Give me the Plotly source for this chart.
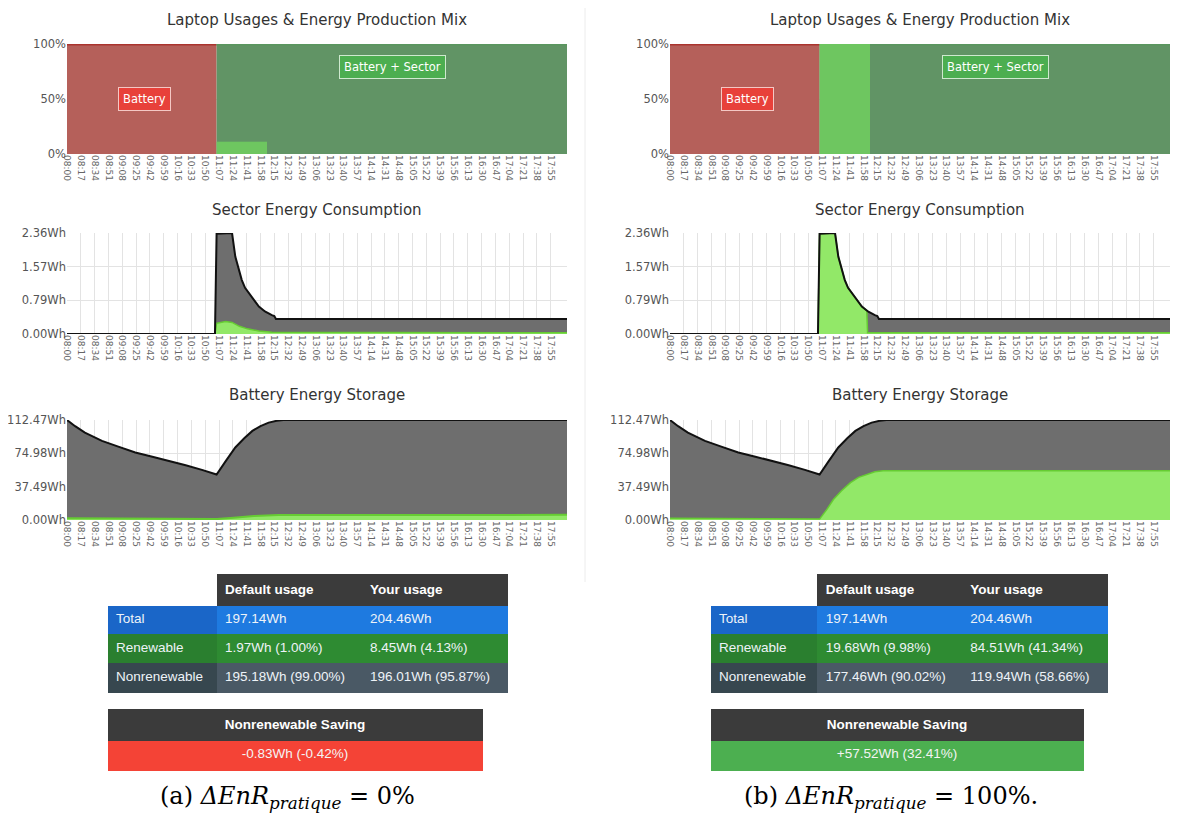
import plotly.graph_objects as go

W, H = 1188, 824
OFF = 8  # page body margin seen in the screenshot

# x axis tick labels (every 17 minutes)
tick_labels = ["08:00", "08:17", "08:34", "08:51", "09:08", "09:25", "09:42", "09:59",
               "10:16", "10:33", "10:50", "11:07", "11:24", "11:41", "11:58", "12:15",
               "12:32", "12:49", "13:06", "13:23", "13:40", "13:57", "14:14", "14:31",
               "14:48", "15:05", "15:22", "15:39", "15:56", "16:13", "16:30", "16:47",
               "17:04", "17:21", "17:38", "17:55"]

# usage mix (% of time), minutes since 08:00
battery_mix_t = [0, 184]
battery_mix = [100, 100]
sector_mix_t = [184, 615]
sector_mix = [100, 100]
renew_mix_t = [184, 246]
renew_mix_a = [11, 11]
renew_mix_b = [100, 100]

# sector energy consumption (Wh)
sector_t = [0, 182, 184, 203, 207, 211, 215, 219, 224, 229, 236, 242, 244, 252, 255, 257, 615]
sector_total = [0, 0, 2.34, 2.36, 1.81, 1.50, 1.26, 1.08, 0.95, 0.80, 0.64, 0.55, 0.52,
                0.44, 0.42, 0.35, 0.35]
sector_renew_a_t = [0, 182, 184, 195, 203, 212, 222, 236, 252, 615]
sector_renew_a = [0, 0, 0.25, 0.29, 0.27, 0.18, 0.12, 0.07, 0.04, 0.03]
sector_renew_b_t = [0, 182, 184, 203, 207, 211, 215, 219, 224, 229, 236, 242, 243, 615]
sector_renew_b = [0, 0, 2.34, 2.36, 1.81, 1.50, 1.26, 1.08, 0.95, 0.80, 0.64, 0.55, 0.03, 0.03]

# battery energy storage (Wh)
battery_t = [0, 10, 22, 43, 64, 84, 105, 125, 146, 166, 184, 195, 207, 218, 228, 238,
             248, 258, 266, 615]
battery_total = [112.47, 105.5, 98.3, 89.0, 82.2, 76.0, 71.2, 66.8, 61.5, 56.4, 51.2,
                 66.0, 81.6, 92.0, 100.2, 105.6, 109.5, 111.6, 112.47, 112.47]
battery_renew_a_t = [0, 90, 184, 205, 230, 260, 615]
battery_renew_a = [2.0, 1.5, 1.0, 2.5, 4.5, 5.5, 5.8]
battery_renew_b_t = [0, 90, 184, 193, 201, 211, 222, 232, 242, 252, 262, 615]
battery_renew_b = [2.0, 1.5, 1.0, 12.0, 23.0, 33.0, 42.0, 48.0, 51.6, 54.3, 55.4, 55.5]

# tables
row_labels = ["Total", "Renewable", "Nonrenewable"]
default_a = ["197.14Wh", "1.97Wh (1.00%)", "195.18Wh (99.00%)"]
yours_a = ["204.46Wh", "8.45Wh (4.13%)", "196.01Wh (95.87%)"]
default_b = ["197.14Wh", "19.68Wh (9.98%)", "177.46Wh (90.02%)"]
yours_b = ["204.46Wh", "84.51Wh (41.34%)", "119.94Wh (58.66%)"]
saving_a = "-0.83Wh (-0.42%)"
saving_b = "+57.52Wh (32.41%)"

RED_FILL = "rgb(181,96,90)"
DKGREEN_FILL = "rgb(97,148,101)"
LTGREEN_MIX = "rgb(110,198,96)"
GRAY_FILL = "rgb(110,110,110)"
LT_GREEN = "rgb(146,232,104)"
GREEN_LINE = "rgb(102,204,51)"
HEAD = "#3b3b3b"
FONT = "DejaVu Sans"


def px(x):
    return (x - OFF) / W


def py(y):
    return 1 - (y - OFF) / H


tick_vals = [(int(s[:2]) - 8) * 60 + int(s[3:]) for s in tick_labels]

fig = go.Figure()

panel_x = [(67, 567), (670, 1170)]
row_y = [(44, 154), (233, 334), (420, 520)]
titles = ["Laptop Usages & Energy Production Mix", "Sector Energy Consumption",
          "Battery Energy Storage"]
y_ranges = [[0, 100], [0, 2.36], [0, 112.47]]
y_ticks = [[0, 50, 100], [0, 0.79, 1.57, 2.36], [0, 37.49, 74.98, 112.47]]
y_text = [["0%", "50%", "100%"], ["0.00Wh", "0.79Wh", "1.57Wh", "2.36Wh"],
          ["0.00Wh", "37.49Wh", "74.98Wh", "112.47Wh"]]

layout = {}
for p in range(2):
    for r in range(3):
        i = p * 3 + r + 1
        sfx = "" if i == 1 else str(i)
        x0, x1 = panel_x[p]
        y0, y1 = row_y[r]
        layout["xaxis" + sfx] = dict(
            domain=[px(x0), px(x1)], range=[0, 615], anchor="y" + sfx,
            tickvals=tick_vals, ticktext=tick_labels, tickangle=90,
            tickfont=dict(size=9, color="#666", family=FONT),
            showgrid=True, gridcolor="#e3e3e3", zeroline=False, showline=False,
            ticks="", fixedrange=True, automargin=False)
        layout["yaxis" + sfx] = dict(
            domain=[py(y1), py(y0)], range=y_ranges[r], anchor="x" + sfx,
            tickvals=y_ticks[r], ticktext=y_text[r],
            tickfont=dict(size=11.5, color="#555", family=FONT),
            showgrid=True, gridcolor="#e3e3e3", zeroline=False, showline=False,
            ticks="", fixedrange=True, automargin=False)

        def add(x, y, fill, line, width, fillmode="tozeroy", xa="x" + sfx, ya="y" + sfx):
            fig.add_trace(go.Scatter(
                x=x, y=y, mode="lines", fill=fillmode, fillcolor=fill,
                line=dict(color=line, width=width), xaxis=xa, yaxis=ya,
                hoverinfo="skip", showlegend=False))

        if r == 0:
            add(battery_mix_t, battery_mix, RED_FILL, "rgb(170,52,46)", 3)
            add(sector_mix_t, sector_mix, DKGREEN_FILL, "rgb(90,150,95)", 3)
            add(renew_mix_t, renew_mix_a if p == 0 else renew_mix_b, LTGREEN_MIX,
                LTGREEN_MIX, 0.5)
        elif r == 1:
            add(sector_t, sector_total, GRAY_FILL, "rgba(0,0,0,0)", 0)
            if p == 0:
                add(sector_renew_a_t, sector_renew_a, LT_GREEN, GREEN_LINE, 1.5)
            else:
                add(sector_renew_b_t, sector_renew_b, LT_GREEN, GREEN_LINE, 1.5)
            add(sector_t, sector_total, None, "#111", 2, fillmode="none")
        else:
            add(battery_t, battery_total, GRAY_FILL, "rgba(0,0,0,0)", 0)
            if p == 0:
                add(battery_renew_a_t, battery_renew_a, LT_GREEN, GREEN_LINE, 2)
            else:
                add(battery_renew_b_t, battery_renew_b, LT_GREEN, GREEN_LINE, 1.5)
            add(battery_t, battery_total, None, "#111", 2, fillmode="none")

annotations = []
title_y = [20, 210, 395]
for p in range(2):
    cx = (panel_x[p][0] + panel_x[p][1]) / 2
    for r in range(3):
        annotations.append(dict(
            x=px(cx), y=py(title_y[r]), xref="paper", yref="paper",
            text=titles[r], showarrow=False, xanchor="center", yanchor="middle",
            font=dict(size=15, color="#333", family=FONT)))
    xa = "x" if p == 0 else "x4"
    ya = "y" if p == 0 else "y4"
    annotations.append(dict(
        x=95, y=50, xref=xa, yref=ya, text="Battery", showarrow=False,
        bgcolor="#e8413a", bordercolor="#f4c8c4", borderwidth=1, borderpad=4,
        font=dict(size=11.5, color="white", family=FONT)))
    annotations.append(dict(
        x=400, y=79, xref=xa, yref=ya, text="Battery + Sector", showarrow=False,
        bgcolor="#4cae50", bordercolor="#cfe9cf", borderwidth=1, borderpad=4,
        font=dict(size=11.5, color="white", family=FONT)))

# tables
TFONT = "Liberation Sans"
tables = [
    (108, 507, [109, 145, 145], default_a, yours_a, saving_a, "#f44336", 108, 482),
    (711, 1108, [107, 145, 145], default_b, yours_b, saving_b, "#4caf50", 711, 1084),
]
label_fill = ["#1a66c8", "#2a7f2f", "#37474f"]
value_fill = ["#1e7ae0", "#2e8b32", "#4a5965"]
for tx0, tx1, cw, dcol, ycol, sv, sv_col, sx0, sx1 in tables:
    fig.add_trace(go.Table(
        domain=dict(x=[px(tx0), px(tx1)], y=[py(700), py(574)]),
        columnwidth=cw,
        header=dict(values=["", "<b>Default usage</b>", "<b>Your usage</b>"],
                    fill_color=["white", HEAD, HEAD], align="left", height=28,
                    font=dict(color="white", size=13.5, family=TFONT),
                    line=dict(width=1, color=["white", HEAD, HEAD])),
        cells=dict(values=[row_labels, dcol, ycol],
                   fill_color=[label_fill, value_fill, value_fill], align="left",
                   height=29, font=dict(color="#eef3f8", size=13.5, family=TFONT),
                   line=dict(width=1, color=[label_fill, value_fill, value_fill]))))
    fig.add_trace(go.Table(
        domain=dict(x=[px(sx0), px(sx1)], y=[py(780), py(709)]),
        header=dict(values=["<b>Nonrenewable Saving</b>"], fill_color=HEAD,
                    align="center", height=29,
                    font=dict(color="white", size=13.5, family=TFONT),
                    line=dict(width=1, color=HEAD)),
        cells=dict(values=[[sv]], fill_color=sv_col, align="center", height=30,
                   font=dict(color="#f4f4f4", size=13.5, family=TFONT),
                   line=dict(width=1, color=sv_col))))

# captions
SERIF = "DejaVu Serif"
annotations.append(dict(
    x=px(287), y=py(797), xref="paper", yref="paper", showarrow=False,
    xanchor="center", yanchor="middle",
    text="(a) <i>ΔEnR</i><sub><i>pratique</i></sub> = 0%",
    font=dict(size=24, color="black", family=SERIF)))
annotations.append(dict(
    x=px(891), y=py(797), xref="paper", yref="paper", showarrow=False,
    xanchor="center", yanchor="middle",
    text="(b) <i>ΔEnR</i><sub><i>pratique</i></sub> = 100%.",
    font=dict(size=24, color="black", family=SERIF)))

fig.update_layout(
    width=W, height=H, autosize=False, showlegend=False,
    margin=dict(l=0, r=0, t=0, b=0, pad=0),
    paper_bgcolor="white", plot_bgcolor="white",
    annotations=annotations,
    shapes=[dict(type="line", xref="paper", yref="paper", x0=px(585), x1=px(585),
                 y0=py(582), y1=1, line=dict(color="#ececec", width=1))],
    **layout)

fig.write_html("out.html")
